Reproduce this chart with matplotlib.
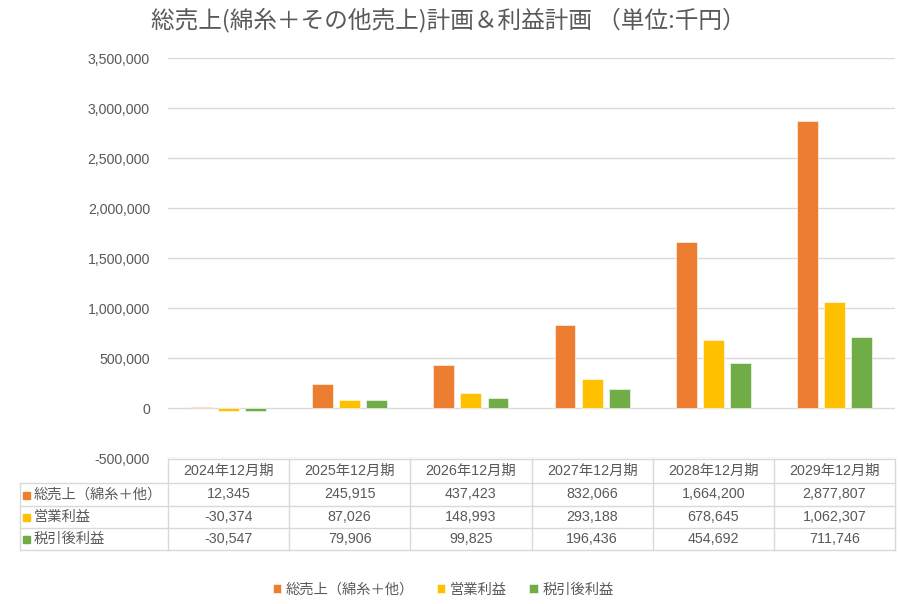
import numpy as np
import matplotlib.pyplot as plt
from matplotlib.lines import Line2D
from matplotlib.patches import Rectangle

plt.rcParams['font.family'] = ['Liberation Sans', 'Noto Sans CJK JP']

# データ
categories = ['2024年12月期', '2025年12月期', '2026年12月期',
              '2027年12月期', '2028年12月期', '2029年12月期']
series_names = ['総売上（綿糸＋他）', '営業利益', '税引後利益']
sales = [12345, 245915, 437423, 832066, 1664200, 2877807]
op_profit = [-30374, 87026, 148993, 293188, 678645, 1062307]
net_profit = [-30547, 79906, 99825, 196436, 454692, 711746]
colors = ['#ED7D31', '#FFC000', '#70AD47']

W, H = 900, 604
TXT = '#595959'
GRID = '#D9D9D9'

fig = plt.figure(figsize=(W / 100, H / 100), dpi=100)


def fx(px):
    return px / W


def fy(py):
    return 1 - py / H


left, right, top, bottom = 168, 895, 58.3, 458.3
ax = fig.add_axes([fx(left), fy(bottom), fx(right - left), fy(top) - fy(bottom)])

x = np.arange(len(categories))
width = 0.172
step = 0.223
for i, vals in enumerate([sales, op_profit, net_profit]):
    ax.bar(x + (i - 1) * step, vals, width, color=colors[i],
           edgecolor='white', linewidth=0.4, label=series_names[i], zorder=3)

ax.set_xlim(-0.5, len(categories) - 0.5)
ax.set_ylim(-500000, 3500000)
ax.set_yticks(np.arange(-500000, 3500001, 500000))
ax.yaxis.set_major_formatter(plt.FuncFormatter(lambda v, p: f'{int(v):,}'))
ax.tick_params(axis='y', length=0, labelsize=10.2, labelcolor=TXT, pad=13)
ax.set_xticks([])
ax.grid(axis='y', color=GRID, linewidth=1, zorder=0)
for s in ax.spines.values():
    s.set_visible(False)

# タイトル
fig.text(fx(448), fy(20), '総売上(綿糸＋その他売上)計画＆利益計画 （単位:千円）',
         ha='center', va='center', fontsize=17, color=TXT,
         family=['Noto Sans CJK JP', 'DejaVu Sans'])

# データテーブル
col_w = (right - left) / len(categories)
row_y = [459, 483, 506, 528, 550]
tab_left = 20


def hline(x0, x1, y):
    fig.add_artist(Line2D([fx(x0), fx(x1)], [fy(y), fy(y)], color=GRID, lw=1))


def vline(x0, y0, y1):
    fig.add_artist(Line2D([fx(x0), fx(x0)], [fy(y0), fy(y1)], color=GRID, lw=1))


hline(left, right, row_y[0])
for y in row_y[1:]:
    hline(tab_left, right, y)
vline(tab_left, row_y[1], row_y[-1])
for j in range(len(categories) + 1):
    vline(left + j * col_w, row_y[0], row_y[-1])

for j, c in enumerate(categories):
    fig.text(fx(left + (j + 0.5) * col_w), fy((row_y[0] + row_y[1]) / 2), c,
             ha='center', va='center', fontsize=10.3, color=TXT)

for i, vals in enumerate([sales, op_profit, net_profit]):
    yc = (row_y[i + 1] + row_y[i + 2]) / 2
    fig.add_artist(Rectangle((fx(23), fy(yc + 4)), fx(7), fy(0) - fy(7),
                             color=colors[i], transform=fig.transFigure))
    fig.text(fx(34), fy(yc), series_names[i], ha='left', va='center',
             fontsize=10.3, color=TXT)
    for j, v in enumerate(vals):
        fig.text(fx(left + (j + 0.5) * col_w), fy(yc), f'{v:,}',
                 ha='center', va='center', fontsize=10.3, color=TXT)

# 凡例
leg = fig.legend(loc='center', bbox_to_anchor=(fx(443), fy(590)), ncol=3,
                 frameon=False, fontsize=10.3, handlelength=0.6, handleheight=0.6,
                 handletextpad=0.3, columnspacing=1.6)
for t in leg.get_texts():
    t.set_color(TXT)

plt.savefig('out.png', dpi=100)
